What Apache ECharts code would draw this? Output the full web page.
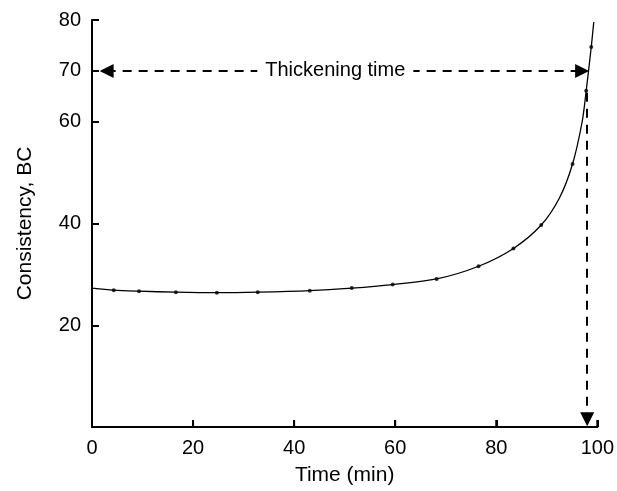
<!DOCTYPE html>
<html>
<head>
<meta charset="utf-8">
<script src="https://cdn.jsdelivr.net/npm/echarts@6/dist/echarts.min.js"></script>
<style>
  html, body { margin: 0; padding: 0; background: #fff; }
  #chart { width: 617px; height: 491px; }
</style>
</head>
<body>
<div id="chart"></div>
<script>
// measured points (time in min, consistency in BC)
const pointTime = [4.3, 9.3, 16.6, 24.7, 32.8, 43.1, 51.4, 59.5, 68.2, 76.5, 83.4, 88.9, 95.1, 97.8, 98.8];
const pointBC   = [26.9, 26.7, 26.5, 26.4, 26.5, 26.8, 27.3, 28.0, 29.1, 31.6, 35.1, 39.7, 51.7, 66.1, 74.7];

// fitted curve through the points
const curveTime = [0, 4.3, 9.3, 16.6, 24.7, 32.8, 43.1, 51.4, 59.5, 68.2, 76.5, 83.4, 88.9, 92.5, 95.1, 97.0, 97.8, 98.8, 99.3];
const curveBC   = [27.3, 26.9, 26.7, 26.5, 26.4, 26.5, 26.8, 27.3, 28.0, 29.1, 31.6, 35.1, 39.7, 45.0, 51.7, 60.0, 66.1, 74.7, 79.6];

const xTicks = [20, 40, 60, 80, 100];
const yTicks = [20, 40, 60, 70, 80];

// thickening time markers
const thickenLevel = 70;
const thickenTime = 98;
const hArrowRight = 97;
const hArrowLeft = 2.9;
const vArrowTop = 65.7;
const vArrowEnd = 1.5;

const font = "Liberation Sans";
const dash = { color: "#000", width: 2, type: [9, 7] };

const myChart = echarts.init(document.getElementById("chart"));

const option = {
  animation: false,
  backgroundColor: "#fff",
  grid: { left: 92, right: 19, top: 20, bottom: 63 },
  xAxis: {
    type: "value",
    min: 0,
    max: 100,
    interval: 20,
    name: "Time (min)",
    nameLocation: "middle",
    nameGap: 38,
    nameTextStyle: { color: "#000", fontSize: 21, fontFamily: font },
    axisLine: { onZero: false, lineStyle: { color: "#000", width: 2 } },
    axisTick: { show: true, inside: true, length: 7, lineStyle: { color: "#000", width: 2 } },
    axisLabel: { color: "#000", fontSize: 20, fontFamily: font, margin: 11 },
    splitLine: { show: false },
  },
  yAxis: {
    type: "value",
    min: 0,
    max: 80,
    interval: 10,
    name: "Consistency, BC",
    nameLocation: "middle",
    nameGap: 56,
    nameTextStyle: { color: "#000", fontSize: 21, fontFamily: font },
    axisLine: { onZero: false, lineStyle: { color: "#000", width: 2 } },
    axisTick: { show: true, inside: true, length: 7, lineStyle: { color: "#000", width: 2 }, customValues: yTicks },
    axisLabel: { color: "#000", fontSize: 20, fontFamily: font, margin: 11, customValues: yTicks },
    splitLine: { show: false },
  },
  series: [
    {
      type: "line",
      data: curveTime.map((t, i) => [t, curveBC[i]]),
      smooth: 0.3,
      showSymbol: false,
      lineStyle: { color: "#000", width: 1.3 },
      silent: true,
    },
    {
      type: "scatter",
      data: pointTime.map((t, i) => [t, pointBC[i]]),
      symbolSize: 4,
      itemStyle: { color: "#000" },
      silent: true,
    },
    {
      // short upward ticks on the time axis
      type: "custom",
      silent: true,
      clip: false,
      data: xTicks.map((v) => [v, 0]),
      renderItem: (params, api) => {
        const p = api.coord([api.value(0), api.value(1)]);
        return {
          type: "line",
          shape: { x1: p[0], y1: p[1], x2: p[0], y2: p[1] - 7 },
          style: { stroke: "#000", lineWidth: 2 },
        };
      },
    },
    {
      // horizontal double arrow
      type: "line",
      data: [],
      silent: true,
      markLine: {
        silent: true,
        symbol: ["triangle", "triangle"],
        symbolSize: [14, 14],
        lineStyle: dash,
        label: { show: false },
        data: [[{ coord: [hArrowLeft, thickenLevel] }, { coord: [hArrowRight, thickenLevel] }]],
      },
    },
    {
      // vertical arrow down to the time axis
      type: "line",
      data: [],
      silent: true,
      markLine: {
        silent: true,
        symbol: ["none", "triangle"],
        symbolSize: [14, 14],
        lineStyle: dash,
        label: { show: false },
        data: [[{ coord: [thickenTime, vArrowTop] }, { coord: [thickenTime, vArrowEnd] }]],
      },
    },
  ],
};

myChart.setOption(option);

// label over the horizontal arrow, placed through the axis scale
const mid = myChart.convertToPixel({ gridIndex: 0 }, [(hArrowRight + hArrowLeft) / 2 - 1.8, thickenLevel]);
myChart.setOption({
  graphic: [
    {
      type: "text",
      z: 100,
      zlevel: 1,
      x: mid[0],
      y: mid[1],
      style: {
        text: "Thickening time",
        font: "20px " + font,
        fill: "#000",
        align: "center",
        verticalAlign: "middle",
        backgroundColor: "#fff",
        padding: [3, 8],
      },
    },
  ],
});
</script>
</body>
</html>
